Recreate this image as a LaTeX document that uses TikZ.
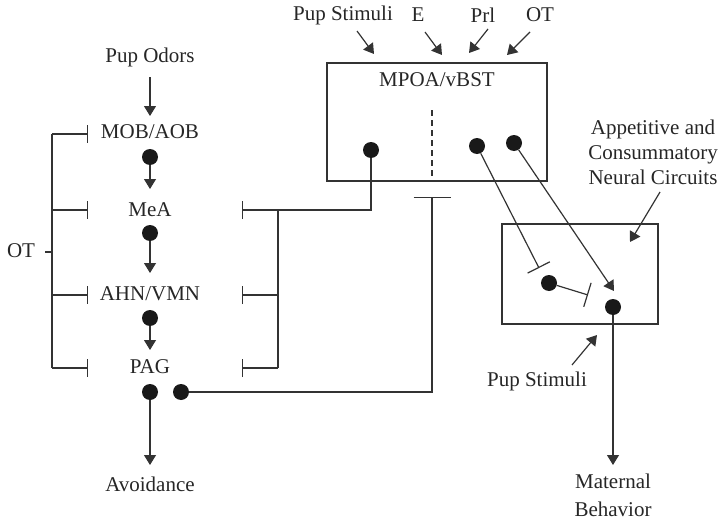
\documentclass[tikz,border=0pt]{standalone}
\usepackage{fontspec}
\setmainfont{Liberation Serif}
\usetikzlibrary{arrows.meta,calc}
\begin{document}
\begin{tikzpicture}[x=1pt,y=-1pt,
  ln/.style={line width=1.2pt,draw=black!80},
  arr/.style={ln,-{Triangle[length=10pt,width=12pt]}},
  inh/.style={ln,-{Bar[width=#1]}},
  inh/.default=18pt,
  dot/.style={circle,fill=black!90,inner sep=0pt,minimum size=16pt},
  txt/.style={inner sep=0pt,font=\fontsize{21}{25}\selectfont,text=black!85},
  box/.style={ln,rectangle,inner sep=0pt}]
\useasboundingbox (0,0) rectangle (724,522);
% left column
\node[txt] (podors) at (150,57) {Pup Odors};
\node[txt] (mob) at (150,132) {MOB/AOB};
\node[txt] (mea) at (150,210) {MeA};
\node[txt] (ahn) at (150,294) {AHN/VMN};
\node[txt] (pag) at (150,367) {PAG};
\node[txt] (avoid) at (150,484) {Avoidance};
\node[txt] (otl) at (21,251) {OT};
\node[dot] (d1) at (150,157) {};
\node[dot] (d2) at (150,233) {};
\node[dot] (d3) at (150,318) {};
\node[dot] (d4) at (150,392) {};
\node[dot] (d5) at (181,392) {};
\coordinate (t0) at (150,77);
\coordinate (t1) at (150,116);
\coordinate (t2) at (150,189);
\coordinate (t3) at (150,273);
\coordinate (t4) at (150,350);
\coordinate (t5) at (150,465);
\draw[arr] (t0) -- (t1);
\draw[arr] (d1) -- (t2);
\draw[arr] (d2) -- (t3);
\draw[arr] (d3) -- (t4);
\draw[arr] (d4) -- (t5);
% left OT bracket
\coordinate (lvx) at (52,0);
\coordinate (lbx) at (88,0);
\coordinate (ly1) at (0,134);
\coordinate (ly2) at (0,210);
\coordinate (ly3) at (0,295);
\coordinate (ly4) at (0,368);
\coordinate (oty) at (0,252);
\coordinate (ottick) at (45,252);
\draw[ln] (lvx |- ly1) -- (lvx |- ly4);
\draw[ln] (ottick) -- (lvx |- oty);
\foreach \y in {ly1,ly2,ly3,ly4} \draw[inh] (lvx |- \y) -- (lbx |- \y);
% MPOA box
\node[box,minimum width=220pt,minimum height=118pt] (mpoa) at (437,122) {};
\node[txt] (mpoatxt) at (437,80) {MPOA/vBST};
\coordinate (dtop) at (432,110);
\draw[ln,dash pattern=on 6pt off 4pt] (dtop) -- (dtop |- mpoa.south);
\node[dot] (m1) at (371,150) {};
\node[dot] (m2) at (477,146) {};
\node[dot] (m3) at (514,143) {};
% right bracket
\coordinate (rbx) at (242,0);
\coordinate (rvx) at (278,0);
\draw[inh] (m1) |- (rbx |- ly2);
\draw[ln] (rvx |- ly2) -- (rvx |- ly4);
\draw[inh] (rvx |- ly3) -- (rbx |- ly3);
\draw[inh] (rvx |- ly4) -- (rbx |- ly4);
% PAG to MPOA
\coordinate (mbar) at (432,197);
\draw[inh=37pt] (d5) -| (mbar);
% top inputs
\node[txt] (ps1) at (343,15) {Pup Stimuli};
\node[txt] (e) at (418,15) {E};
\node[txt] (prl) at (483,15) {Prl};
\node[txt] (ot2) at (540,15) {OT};
\draw[arr] (357,31) -- (374,54);
\draw[arr] (425,32) -- (442,55);
\draw[arr] (488,29) -- (469,53);
\draw[arr] (530,32) -- (507,55);
% second box
\node[box,minimum width=156pt,minimum height=100pt] (circ) at (580,274) {};
\node[txt,align=center] (app) at (653,152) {Appetitive and\\Consummatory\\Neural Circuits};
\draw[arr] (660,192) -- (630,242);
\node[dot] (c1) at (549,283) {};
\node[dot] (c2) at (613,307) {};
\coordinate (b1) at (539,268);
\coordinate (b2) at (588,295);
\coordinate (a1) at (614,291);
\draw[inh=25pt] (m2) -- (b1);
\draw[inh=25pt] (c1) -- (b2);
\draw[arr] (m3) -- (a1);
\coordinate (t6) at (613,465);
\draw[arr] (c2) -- (t6);
\node[txt,align=center] (mat) at (613,495) {Maternal\\[3pt]Behavior};
\node[txt] (ps2) at (537,381) {Pup Stimuli};
\draw[arr] (572,365) -- (597,335);
\end{tikzpicture}
\end{document}
